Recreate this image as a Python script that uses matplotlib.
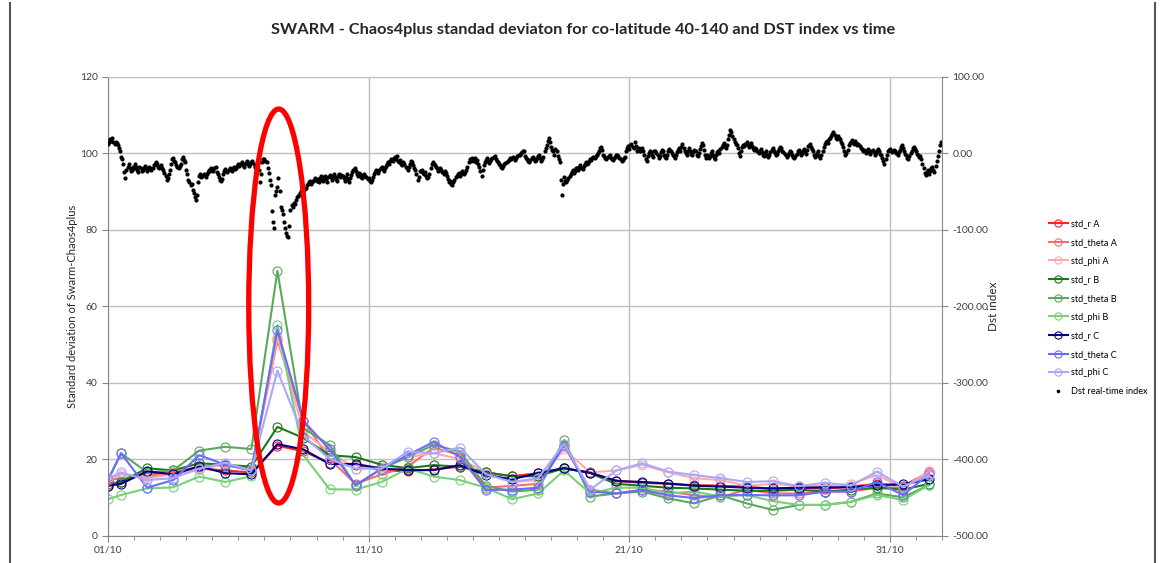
import matplotlib.pyplot as plt
import matplotlib.dates as mdates
from matplotlib.patches import Ellipse
from matplotlib.lines import Line2D
import numpy as np
import pandas as pd

plt.rcParams['font.family'] = ['Lato', 'DejaVu Sans']

start = pd.Timestamp("2014-10-01")

# solution epochs in days from 01/10 (first at midnight, then daily at noon)
day_offsets = [0.0, 0.5, 1.5, 2.5, 3.5, 4.5, 5.5, 6.5, 7.5, 8.5, 9.5, 10.5,
               11.5, 12.5, 13.5, 14.5, 15.5, 16.5, 17.5, 18.5, 19.5, 20.5,
               21.5, 22.5, 23.5, 24.5, 25.5, 26.5, 27.5, 28.5, 29.5, 30.5, 31.5]

std_r_A = [13.5, 14.0, 16.5, 16.0, 17.5, 17.0, 16.5, 23.5, 22.0, 19.0, 18.5, 17.0,
           16.8, 17.3, 18.0, 16.5, 15.5, 16.3, 17.6, 16.5, 14.2, 13.8, 13.5, 13.2,
           13.0, 12.8, 12.2, 12.6, 12.2, 12.8, 13.5, 13.0, 16.5]
std_theta_A = [14.5, 15.0, 15.5, 16.5, 18.0, 18.5, 17.5, 51.0, 30.0, 20.0, 13.5, 16.0,
               18.0, 23.0, 21.0, 12.5, 13.0, 13.5, 23.5, 12.0, 11.0, 12.0, 11.5, 10.5,
               10.0, 12.0, 11.0, 11.0, 11.5, 11.5, 12.5, 12.5, 16.5]
std_phi_A = [14.5, 16.0, 15.0, 16.0, 17.5, 18.5, 17.0, 52.0, 27.0, 22.0, 17.5, 18.0,
             20.5, 21.5, 20.0, 16.5, 14.0, 14.5, 22.5, 16.5, 17.0, 18.5, 16.5, 15.0,
             14.5, 13.0, 13.5, 13.0, 13.0, 13.5, 15.8, 12.5, 16.8]
std_r_B = [13.0, 14.0, 17.6, 17.0, 18.9, 18.5, 18.0, 28.4, 25.5, 21.0, 20.5, 18.5,
           17.6, 18.4, 18.0, 16.5, 15.5, 15.5, 17.6, 16.3, 13.5, 13.0, 12.5, 12.3,
           12.0, 11.7, 11.7, 12.0, 11.5, 12.0, 12.5, 12.0, 13.5]
std_theta_B = [14.5, 21.5, 16.5, 17.0, 22.2, 23.2, 22.6, 69.2, 28.0, 23.7, 13.0, 17.5,
               20.5, 23.7, 21.9, 13.0, 11.5, 12.0, 25.0, 10.2, 11.0, 11.5, 9.7, 8.4,
               10.5, 8.4, 6.7, 8.0, 8.0, 8.8, 11.0, 10.0, 13.2]
std_phi_B = [9.5, 10.6, 12.3, 12.6, 15.4, 14.0, 15.5, 55.0, 21.0, 12.1, 12.0, 14.0,
             17.5, 15.4, 14.5, 12.5, 9.5, 11.0, 17.0, 11.0, 12.5, 12.5, 11.0, 11.5,
             10.2, 10.6, 9.0, 8.0, 8.0, 8.8, 10.6, 9.3, 13.2]
std_r_C = [13.0, 13.5, 16.8, 16.0, 18.1, 16.3, 16.0, 23.9, 22.5, 18.7, 18.7, 17.5,
           17.1, 17.1, 18.4, 15.8, 14.7, 16.3, 17.6, 16.4, 14.3, 14.0, 13.6, 13.0,
           12.8, 12.5, 12.3, 12.5, 12.6, 12.6, 13.2, 13.4, 14.7]
std_theta_C = [14.5, 21.5, 12.5, 14.5, 21.0, 18.5, 17.0, 53.7, 30.0, 22.5, 13.2, 17.5,
               21.0, 24.5, 20.6, 11.9, 12.0, 12.5, 23.7, 11.5, 11.0, 11.9, 10.5, 9.8,
               10.5, 10.6, 10.5, 10.5, 11.5, 11.5, 14.0, 10.6, 16.0]
std_phi_C = [15.0, 16.5, 14.5, 15.0, 17.5, 19.0, 17.0, 43.1, 26.0, 20.0, 17.5, 17.5,
             21.9, 21.5, 23.0, 16.0, 14.0, 15.0, 24.0, 12.0, 17.0, 18.9, 16.7, 15.8,
             15.0, 14.0, 14.2, 12.9, 13.8, 13.0, 16.7, 12.8, 15.8]

# hourly Dst real-time index (nT), one row per day of October
dst_rows = [
    [12, 14, 18, 16, 20, 15, 12, 14, 13, 10, 6, 2, -5, -8, -15, -25, -33, -22, -18, -15, -20, -24, -22, -18],
    [-20, -15, -18, -22, -25, -18, -20, -24, -22, -19, -17, -20, -23, -21, -18, -20, -22, -19, -16, -14, -12, -15, -18, -20],
    [-18, -16, -20, -22, -26, -30, -35, -33, -28, -22, -15, -8, -6, -10, -12, -16, -18, -20, -17, -14, -8, -5, -9, -12],
    [-22, -28, -35, -38, -42, -40, -48, -52, -58, -62, -55, -38, -30, -28, -32, -30, -27, -29, -31, -28, -25, -22, -24, -20],
    [-22, -24, -20, -18, -25, -28, -32, -35, -36, -34, -28, -24, -21, -23, -25, -22, -19, -21, -24, -20, -18, -21, -19, -17],
    [-15, -17, -14, -12, -16, -18, -15, -13, -11, -14, -17, -15, -12, -10, -14, -18, -20, -16, -13, -22, -38, -28, -12, -8],
    [-8, -10, -12, -20, -26, -35, -42, -76, -90, -98, -55, -50, -45, -33, -50, -70, -74, -80, -90, -98, -104, -108, -110, -95],
    [-74, -68, -70, -65, -66, -62, -58, -56, -55, -52, -50, -48, -49, -47, -46, -42, -40, -38, -37, -40, -38, -36, -35, -33],
    [-36, -34, -38, -33, -30, -35, -37, -32, -30, -34, -38, -31, -29, -32, -35, -30, -28, -31, -34, -36, -30, -28, -32, -29],
    [-30, -33, -36, -31, -28, -34, -38, -33, -29, -25, -22, -20, -24, -27, -30, -26, -28, -31, -33, -29, -27, -30, -32, -34],
    [-33, -36, -38, -35, -32, -27, -25, -22, -24, -26, -22, -20, -18, -21, -24, -19, -17, -15, -12, -14, -10, -8, -11, -7],
    [-5, -8, -4, -10, -12, -9, -14, -16, -12, -15, -18, -20, -22, -18, -14, -10, -12, -16, -20, -22, -28, -35, -32, -24],
    [-24, -22, -26, -28, -25, -30, -33, -31, -27, -20, -15, -12, -14, -16, -18, -20, -23, -21, -19, -22, -25, -27, -24, -26],
    [-30, -34, -38, -36, -40, -42, -38, -35, -32, -30, -28, -26, -30, -27, -24, -26, -28, -25, -22, -18, -12, -8, -10, -7],
    [-8, -10, -6, -12, -9, -14, -18, -24, -30, -22, -16, -12, -9, -7, -10, -13, -11, -8, -6, -5, -4, -8, -10, -12],
    [-14, -16, -18, -20, -17, -15, -13, -12, -10, -9, -7, -8, -6, -5, -7, -9, -6, -4, -3, -2, 0, 1, 3, 2],
    [-4, -6, -8, -10, -12, -9, -7, -5, -8, -11, -9, -6, -4, -3, -7, -10, -8, -5, 2, 6, 10, 16, 20, 14],
    [8, 4, 2, -2, 5, 3, -4, -8, -12, -35, -55, -40, -32, -36, -38, -35, -33, -30, -28, -25, -22, -26, -24, -20],
    [-20, -22, -18, -16, -19, -21, -17, -14, -12, -15, -13, -10, -8, -9, -7, -5, -6, -4, -2, 0, 3, 6, 8, 4],
    [-2, -4, -6, -8, -5, -4, -3, -6, -8, -9, -7, -5, -3, -2, -4, -6, -8, -10, -9, -7, -5, 2, 7, 9],
    [5, 10, 12, 8, 6, 14, 9, 3, 5, 7, 2, 4, 6, 3, -2, -8, -10, -4, 0, 3, 1, -2, -5, 2],
    [3, 0, -3, -6, -4, 1, 4, 2, -2, -5, -7, -3, 2, 5, 3, 0, -2, -4, -6, -3, 1, 4, 7, 3],
    [8, 12, 6, 3, 0, -2, 3, 6, 2, -1, -3, 1, 4, 2, -2, -4, 0, 5, 9, 13, 10, 4, -2, -6],
    [-3, -6, -4, 0, 2, -2, -5, -8, -3, 1, 3, 0, 5, 8, 11, 13, 9, 7, 10, 18, 24, 30, 28, 22],
    [18, 14, 12, 10, 6, 0, -4, 3, 8, 11, 9, 12, 14, 10, 8, 11, 13, 9, 6, 4, 7, 5, 2, 0],
    [3, 5, 1, -2, -4, 0, 2, -3, -5, -2, 1, 4, 6, 3, 0, -3, -1, 2, 5, 8, 6, 3, 1, -1],
    [-2, -5, -3, 0, 3, 1, -2, -5, -7, -4, -1, 2, 4, 1, -2, 0, 3, 5, 2, -1, 4, 9, 12, 8],
    [5, 2, -2, -5, -3, 0, 3, -4, -6, -2, 3, 8, 12, 14, 16, 13, 18, 20, 22, 25, 27, 24, 20, 18],
    [22, 20, 18, 15, 12, 8, 2, -2, 0, 4, 10, 13, 15, 17, 14, 12, 16, 13, 10, 12, 9, 7, 5, 3],
    [4, 2, 0, 3, 5, 1, -1, 2, 4, 1, -2, 0, 3, 5, 2, -1, -3, -6, -10, -14, -8, -2, 2, 4],
    [5, 3, 1, 2, 4, 2, 0, -2, 1, 4, 8, 10, 6, 2, -1, -3, -6, -8, -4, 0, 3, 6, 8, 5],
    [2, -1, -3, -5, -4, -8, -14, -20, -26, -29, -25, -22, -27, -24, -20, -18, -22, -25, -17, -10, -4, 3, 10, 14],
]

series_names = ["std_r A", "std_theta A", "std_phi A",
                "std_r B", "std_theta B", "std_phi B",
                "std_r C", "std_theta C", "std_phi C"]
series_values = [std_r_A, std_theta_A, std_phi_A,
                 std_r_B, std_theta_B, std_phi_B,
                 std_r_C, std_theta_C, std_phi_C]
series_colors = ["#ff2020", "#ff6a6a", "#ffaaaa",
                 "#1a7a1a", "#5aa85a", "#78d078",
                 "#000080", "#6a6aff", "#a8a8ff"]

t_std = start + pd.to_timedelta(day_offsets, unit="D")
dst = np.concatenate(dst_rows)
t_dst = pd.date_range(start, periods=len(dst), freq="h")

fig = plt.figure(figsize=(11.6, 5.63), dpi=100)
ax = fig.add_axes([0.0931, 0.0488, 0.7190, 0.8153])
ax2 = ax.twinx()

handles = []
for name, vals, col in zip(series_names, series_values, series_colors):
    h, = ax.plot(t_std, vals, color=col, lw=1.5, marker="o", ms=6.5,
                 mfc="none", mec=col, mew=0.8, label=name)
    handles.append(h)

hd, = ax2.plot(t_dst, dst, ls="none", marker="o", ms=2.0, color="black",
               label="Dst real-time index")
handles.append(hd)

grid_col = "#bfbfbf"
axis_col = "#868686"

ax.set_xlim(start, start + pd.Timedelta(days=32))
ax.set_ylim(0, 120)
ax.set_yticks(np.arange(0, 121, 20))
ax2.set_ylim(-500, 100)
ax2.set_yticks(np.arange(-500, 101, 100))
ax2.yaxis.set_major_formatter(plt.FormatStrFormatter("%.2f"))

major_days = [start + pd.Timedelta(days=d) for d in (0, 10, 20, 30)]
ax.set_xticks(mdates.date2num(major_days))
ax.xaxis.set_minor_locator(mdates.DayLocator())
ax.xaxis.set_major_formatter(mdates.DateFormatter("%d/%m"))

ax.grid(True, which="major", color=grid_col, lw=1)
ax.set_axisbelow(True)

for a in (ax, ax2):
    for s in a.spines.values():
        s.set_color(axis_col)
        s.set_linewidth(0.8)
ax.spines["top"].set_color(grid_col)
ax.spines["right"].set_visible(False)
for s in ("left", "top", "bottom"):
    ax2.spines[s].set_visible(False)

ax.tick_params(axis="both", which="major", labelsize=7.5, labelcolor="#404040",
               color=axis_col, length=4, direction="out")
ax.tick_params(axis="x", which="minor", color=axis_col, length=3)
ax2.tick_params(axis="y", labelsize=7.5, labelcolor="#404040",
                color=axis_col, length=4, direction="out")

ax.set_ylabel("Standard deviation of Swarm-Chaos4plus", fontsize=8, color="#262626",
              labelpad=1)
ax2.set_ylabel("Dst index", fontsize=8.5, color="#262626", labelpad=0)

fig.text(0.503, 0.947, "SWARM - Chaos4plus standad deviaton for co-latitude 40-140 and DST index vs time",
         ha="center", va="center", fontsize=11.8, fontweight="bold", color="#262626")

fig.legend(handles=handles, loc="upper left", bbox_to_anchor=(0.897, 0.625),
           frameon=False, fontsize=6.6, handlelength=2.1, handletextpad=0.3,
           labelspacing=1.05, markerscale=0.8)

# highlight of the storm on 07/10
storm = Ellipse((mdates.date2num(start + pd.Timedelta(days=6.55)), 60), width=2.3, height=103,
                transform=ax.transData, fill=False, ec="#ff0000", lw=3.8,
                clip_on=False, zorder=10)
ax2.add_patch(storm)

# chart frame
fig.add_artist(Line2D([10 / 1160, 10 / 1160], [0, 0.995], transform=fig.transFigure,
                      color="#555555", lw=1.5))
fig.add_artist(Line2D([1155 / 1160, 1155 / 1160], [0, 0.995], transform=fig.transFigure,
                      color="#555555", lw=1.5))

fig.savefig("out.png", dpi=100)
